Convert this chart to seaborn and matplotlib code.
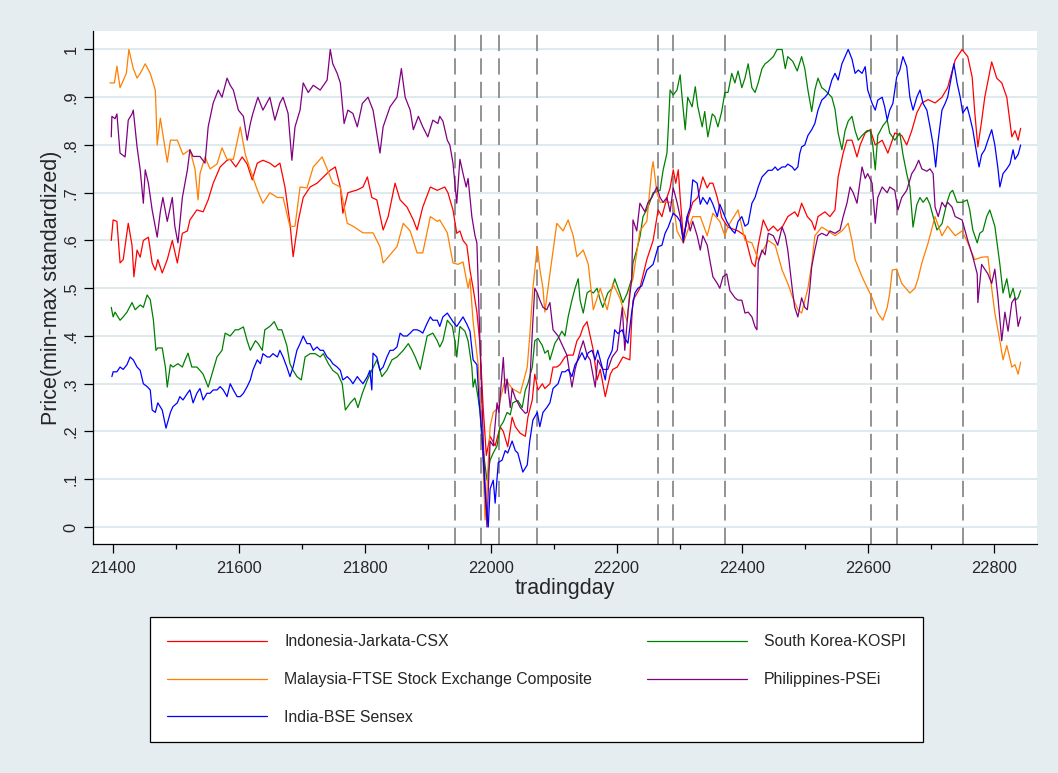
import matplotlib.pyplot as plt
import pandas as pd
import seaborn as sns
from matplotlib.lines import Line2D
from matplotlib.ticker import FixedLocator

# (tradingday, min-max standardized price)
indonesia = [
    (21397, .60), (21400, .643), (21406, .64), (21411, .553), (21416, .56), (21424, .636), (21430, .59),
    (21433, .524), (21438, .58), (21443, .565), (21448, .60), (21456, .607), (21462, .553), (21467, .538),
    (21471, .56), (21478, .532), (21486, .56), (21494, .60), (21502, .553), (21510, .615), (21518, .62),
    (21522, .643), (21533, .664), (21543, .66), (21551, .685), (21559, .72), (21570, .754), (21581, .768),
    (21586, .77), (21595, .754), (21605, .775), (21613, .76), (21621, .727), (21629, .762), (21638, .768),
    (21649, .762), (21657, .754), (21665, .762), (21673, .712), (21681, .636), (21686, .566), (21694, .64),
    (21702, .69), (21713, .712), (21724, .72), (21734, .733), (21745, .747), (21753, .754), (21761, .712),
    (21765, .657), (21773, .70), (21788, .706), (21797, .712), (21804, .733), (21811, .69), (21819, .685),
    (21829, .622), (21837, .65), (21848, .72), (21856, .685), (21867, .67), (21877, .643), (21883, .622),
    (21892, .67), (21904, .712), (21915, .705), (21927, .712), (21932, .70), (21940, .664), (21946, .615),
    (21951, .62), (21956, .60), (21962, .59), (21967, .538), (21972, .50), (21978, .45), (21983, .38),
    (21988, .25), (21993, .15), (21999, .19), (22007, .17), (22015, .21), (22020, .20), (22027, .168),
    (22034, .23), (22039, .21), (22047, .196), (22055, .19), (22059, .23), (22066, .266), (22070, .32),
    (22075, .287), (22082, .30), (22086, .29), (22094, .30), (22099, .335), (22105, .335), (22110, .34),
    (22118, .356), (22123, .36), (22131, .36), (22137, .39), (22142, .40), (22147, .419), (22153, .43),
    (22158, .40), (22163, .37), (22169, .308), (22174, .33), (22182, .273), (22190, .32), (22194, .33),
    (22201, .335), (22210, .356), (22221, .35), (22224, .433), (22226, .475), (22237, .50), (22248, .56),
    (22258, .60), (22266, .664), (22272, .65), (22280, .69), (22285, .71), (22290, .748), (22294, .72),
    (22298, .748), (22301, .69), (22306, .607), (22313, .645), (22321, .68), (22329, .69), (22337, .733),
    (22344, .71), (22348, .72), (22353, .72), (22360, .69), (22367, .648), (22377, .628), (22393, .62),
    (22404, .61), (22415, .553), (22420, .545), (22425, .59), (22433, .643), (22441, .62), (22449, .63),
    (22456, .62), (22464, .63), (22472, .65), (22483, .66), (22488, .65), (22494, .678), (22503, .65),
    (22510, .64), (22515, .622), (22520, .65), (22531, .66), (22539, .65), (22547, .664), (22552, .733),
    (22560, .783), (22566, .81), (22574, .81), (22582, .775), (22587, .80), (22595, .825), (22603, .832),
    (22611, .80), (22622, .81), (22631, .783), (22642, .825), (22653, .82), (22661, .80), (22669, .83),
    (22677, .867), (22685, .888), (22695, .895), (22706, .888), (22717, .90), (22726, .92), (22738, .978),
    (22749, 1.0), (22758, .985), (22765, .942), (22769, .87), (22774, .796), (22780, .85), (22785, .90),
    (22796, .974), (22804, .94), (22812, .93), (22820, .90), (22828, .817), (22833, .83), (22838, .81),
    (22842, .835),
]

south_korea = [
    (21397, .46), (21400, .44), (21403, .45), (21411, .433), (21416, .44), (21422, .45), (21430, .47),
    (21435, .455), (21443, .465), (21448, .46), (21454, .486), (21459, .476), (21464, .433), (21468, .37),
    (21471, .375), (21478, .375), (21483, .335), (21486, .293), (21491, .34), (21495, .335), (21503, .342),
    (21510, .335), (21514, .349), (21519, .364), (21525, .335), (21533, .335), (21538, .328), (21543, .32),
    (21551, .293), (21557, .32), (21565, .356), (21573, .37), (21578, .406), (21586, .40), (21594, .413),
    (21599, .413), (21607, .419), (21613, .39), (21618, .37), (21626, .39), (21630, .385), (21637, .37),
    (21641, .413), (21649, .42), (21656, .43), (21662, .413), (21668, .413), (21676, .38), (21681, .342),
    (21686, .328), (21692, .315), (21699, .308), (21705, .356), (21713, .363), (21721, .363), (21729, .356),
    (21734, .363), (21742, .342), (21749, .328), (21757, .32), (21764, .30), (21769, .245), (21777, .26),
    (21784, .27), (21789, .25), (21796, .28), (21804, .308), (21811, .328), (21819, .35), (21827, .315),
    (21835, .328), (21843, .35), (21851, .356), (21861, .37), (21869, .384), (21875, .37), (21880, .356),
    (21888, .33), (21892, .356), (21899, .40), (21908, .406), (21915, .39), (21919, .377), (21924, .39),
    (21931, .433), (21939, .42), (21943, .39), (21946, .356), (21951, .42), (21959, .41), (21964, .39),
    (21970, .335), (21972, .293), (21975, .31), (21980, .27), (21983, .24), (21986, .18), (21988, .16),
    (21994, .098), (21999, .14), (22004, .155), (22010, .17), (22015, .21), (22020, .22), (22026, .24),
    (22031, .235), (22035, .26), (22043, .265), (22050, .25), (22055, .287), (22059, .30), (22066, .335),
    (22070, .39), (22075, .395), (22082, .38), (22086, .364), (22091, .37), (22094, .35), (22102, .385),
    (22107, .395), (22113, .41), (22118, .40), (22123, .44), (22129, .475), (22134, .50), (22139, .52),
    (22142, .475), (22147, .448), (22153, .49), (22158, .495), (22163, .49), (22169, .50), (22174, .475),
    (22178, .46), (22186, .49), (22193, .50), (22197, .52), (22205, .49), (22210, .47), (22217, .49),
    (22224, .52), (22226, .553), (22232, .58), (22237, .607), (22242, .65), (22250, .67), (22258, .70),
    (22269, .705), (22274, .748), (22280, .783), (22282, .832), (22285, .915), (22290, .905), (22296, .915),
    (22301, .947), (22304, .90), (22309, .832), (22313, .90), (22320, .88), (22325, .922), (22329, .88),
    (22336, .838), (22340, .87), (22345, .817), (22352, .865), (22356, .86), (22361, .838), (22367, .87),
    (22372, .91), (22377, .91), (22383, .95), (22388, .93), (22393, .955), (22399, .92), (22404, .94),
    (22409, .97), (22415, .92), (22420, .91), (22425, .93), (22431, .96), (22436, .97), (22441, .975),
    (22449, .985), (22455, 1.0), (22463, 1.0), (22468, .96), (22472, .985), (22480, .975), (22487, .955),
    (22494, .985), (22499, .96), (22504, .915), (22510, .87), (22515, .915), (22520, .94), (22526, .92),
    (22531, .915), (22536, .908), (22542, .90), (22547, .875), (22552, .825), (22558, .79), (22563, .83),
    (22568, .85), (22574, .86), (22579, .83), (22584, .81), (22590, .82), (22598, .83), (22603, .83),
    (22607, .80), (22611, .748), (22615, .82), (22623, .84), (22630, .852), (22634, .825), (22642, .81),
    (22650, .825), (22655, .78), (22661, .74), (22666, .712), (22671, .628), (22677, .675), (22682, .69),
    (22687, .68), (22693, .69), (22698, .675), (22703, .65), (22709, .622), (22717, .635), (22725, .68),
    (22730, .70), (22734, .705), (22741, .68), (22749, .68), (22757, .685), (22761, .665), (22766, .622),
    (22773, .595), (22777, .615), (22782, .62), (22788, .65), (22793, .664), (22801, .63), (22804, .60),
    (22809, .55), (22814, .49), (22820, .52), (22825, .48), (22830, .50), (22834, .475), (22838, .48),
    (22842, .495),
]

malaysia = [
    (21395, .93), (21402, .93), (21406, .965), (21411, .92), (21421, .95), (21425, 1.0), (21432, .96),
    (21438, .94), (21443, .95), (21451, .97), (21459, .95), (21467, .915), (21468, .88), (21470, .80),
    (21475, .856), (21486, .764), (21491, .81), (21502, .81), (21511, .78), (21522, .79), (21530, .75),
    (21535, .685), (21538, .74), (21546, .775), (21554, .75), (21565, .76), (21573, .794), (21581, .77),
    (21591, .77), (21602, .838), (21610, .78), (21618, .748), (21629, .706), (21638, .678), (21649, .70),
    (21661, .69), (21670, .69), (21681, .629), (21689, .63), (21697, .712), (21708, .71), (21718, .754),
    (21732, .775), (21740, .75), (21749, .72), (21761, .712), (21772, .636), (21781, .63), (21797, .616),
    (21813, .616), (21824, .587), (21829, .553), (21840, .57), (21851, .587), (21861, .636), (21872, .62),
    (21883, .574), (21892, .574), (21904, .65), (21915, .64), (21919, .643), (21931, .616), (21940, .553),
    (21948, .55), (21956, .555), (21964, .50), (21967, .52), (21972, .43), (21980, .34), (21986, .20),
    (21991, .015), (21994, .08), (21999, .21), (22004, .24), (22012, .25), (22023, .31), (22034, .29),
    (22047, .28), (22058, .335), (22062, .40), (22067, .50), (22074, .587), (22078, .54), (22083, .50),
    (22086, .45), (22094, .53), (22105, .636), (22115, .62), (22123, .643), (22131, .61), (22137, .566),
    (22147, .58), (22155, .55), (22163, .455), (22174, .50), (22185, .455), (22194, .51), (22205, .48),
    (22217, .43), (22221, .50), (22226, .52), (22237, .62), (22248, .64), (22256, .75), (22258, .765),
    (22264, .70), (22269, .68), (22280, .68), (22290, .68), (22296, .62), (22306, .595), (22321, .65),
    (22333, .65), (22344, .61), (22353, .657), (22364, .64), (22372, .61), (22377, .63), (22393, .664),
    (22404, .60), (22415, .595), (22425, .56), (22441, .60), (22452, .59), (22463, .538), (22472, .51),
    (22480, .48), (22488, .455), (22494, .448), (22504, .50), (22510, .55), (22515, .61), (22526, .628),
    (22536, .62), (22547, .61), (22558, .62), (22568, .636), (22574, .60), (22579, .56), (22590, .524),
    (22606, .48), (22615, .448), (22623, .433), (22630, .46), (22634, .49), (22638, .538), (22645, .54),
    (22653, .51), (22666, .49), (22674, .50), (22679, .52), (22685, .553), (22695, .595), (22706, .65),
    (22717, .61), (22726, .63), (22738, .61), (22749, .62), (22758, .595), (22769, .56), (22780, .565),
    (22790, .566), (22796, .50), (22801, .448), (22809, .39), (22814, .35), (22820, .38), (22828, .335),
    (22833, .34), (22838, .32), (22842, .345),
]

philippines = [
    (21397, .817), (21398, .86), (21403, .855), (21406, .865), (21411, .783), (21414, .78), (21419, .775),
    (21424, .852), (21430, .865), (21432, .873), (21438, .796), (21443, .748), (21448, .678), (21451, .748),
    (21456, .72), (21462, .664), (21470, .607), (21475, .66), (21479, .69), (21486, .64), (21494, .69),
    (21498, .63), (21503, .595), (21510, .69), (21518, .748), (21522, .79), (21527, .776), (21538, .776),
    (21546, .762), (21551, .838), (21559, .888), (21567, .915), (21573, .90), (21581, .94), (21586, .925),
    (21591, .915), (21599, .873), (21607, .86), (21613, .81), (21618, .845), (21622, .866), (21630, .90),
    (21638, .873), (21649, .90), (21657, .852), (21665, .888), (21670, .90), (21678, .866), (21684, .768),
    (21689, .838), (21697, .873), (21702, .93), (21710, .91), (21718, .925), (21729, .915), (21740, .936),
    (21745, 1.0), (21749, .97), (21756, .95), (21761, .93), (21767, .845), (21773, .873), (21781, .866),
    (21788, .838), (21796, .887), (21805, .90), (21813, .873), (21824, .783), (21829, .838), (21840, .88),
    (21851, .90), (21858, .96), (21864, .90), (21872, .873), (21877, .832), (21885, .86), (21892, .838),
    (21900, .817), (21908, .852), (21916, .845), (21919, .86), (21924, .85), (21931, .81), (21935, .80),
    (21940, .762), (21946, .678), (21951, .77), (21956, .74), (21961, .712), (21964, .73), (21970, .65),
    (21975, .61), (21978, .595), (21980, .51), (21983, .38), (21989, .15), (21994, .0), (21999, .18),
    (22004, .17), (22010, .26), (22013, .24), (22020, .355), (22023, .28), (22026, .31), (22031, .25),
    (22034, .29), (22039, .27), (22047, .25), (22055, .238), (22058, .24), (22062, .30), (22067, .433),
    (22070, .50), (22074, .49), (22078, .475), (22083, .46), (22089, .455), (22094, .47), (22099, .413),
    (22107, .40), (22115, .377), (22121, .36), (22129, .293), (22134, .33), (22142, .37), (22147, .39),
    (22153, .36), (22158, .35), (22166, .293), (22170, .35), (22178, .33), (22186, .33), (22193, .356),
    (22201, .37), (22209, .46), (22213, .37), (22218, .45), (22224, .52), (22226, .643), (22232, .62),
    (22237, .678), (22245, .66), (22250, .68), (22256, .69), (22264, .712), (22269, .69), (22274, .68),
    (22280, .69), (22285, .66), (22290, .71), (22296, .68), (22301, .65), (22306, .595), (22312, .65),
    (22317, .62), (22321, .64), (22328, .61), (22333, .58), (22337, .61), (22344, .59), (22348, .56),
    (22353, .524), (22360, .51), (22364, .50), (22369, .524), (22375, .53), (22380, .495), (22388, .48),
    (22393, .475), (22399, .475), (22404, .448), (22409, .45), (22415, .44), (22420, .419), (22423, .413),
    (22425, .553), (22431, .58), (22436, .57), (22441, .615), (22449, .61), (22456, .59), (22463, .628),
    (22468, .61), (22472, .58), (22479, .50), (22483, .46), (22488, .44), (22494, .48), (22499, .46),
    (22503, .455), (22507, .50), (22510, .545), (22515, .58), (22520, .61), (22526, .615), (22534, .61),
    (22539, .62), (22547, .615), (22555, .622), (22560, .65), (22566, .678), (22571, .712), (22576, .70),
    (22582, .678), (22590, .754), (22595, .73), (22599, .74), (22606, .72), (22611, .636), (22615, .69),
    (22622, .712), (22630, .70), (22634, .712), (22642, .705), (22647, .664), (22653, .69), (22661, .705),
    (22669, .74), (22674, .75), (22680, .768), (22685, .75), (22693, .745), (22698, .75), (22703, .74),
    (22706, .67), (22711, .65), (22717, .68), (22722, .67), (22726, .68), (22733, .67), (22738, .65),
    (22749, .643), (22758, .60), (22766, .566), (22773, .53), (22774, .47), (22780, .55), (22785, .54),
    (22790, .53), (22796, .51), (22801, .54), (22806, .48), (22812, .39), (22817, .45), (22822, .41),
    (22828, .47), (22833, .48), (22838, .42), (22842, .44),
]

india = [
    (21398, .315), (21400, .325), (21406, .325), (21411, .335), (21416, .33), (21422, .34), (21427, .356),
    (21432, .35), (21438, .335), (21443, .328), (21448, .30), (21454, .294), (21459, .287), (21462, .245),
    (21467, .24), (21471, .26), (21478, .245), (21484, .207), (21491, .24), (21495, .252), (21502, .26),
    (21506, .273), (21511, .266), (21518, .28), (21522, .287), (21527, .26), (21533, .28), (21538, .29),
    (21543, .266), (21549, .28), (21554, .28), (21559, .287), (21565, .287), (21570, .294), (21575, .287),
    (21581, .273), (21586, .30), (21591, .287), (21597, .273), (21602, .273), (21607, .28), (21613, .294),
    (21618, .308), (21622, .328), (21629, .35), (21634, .342), (21638, .363), (21645, .356), (21649, .356),
    (21654, .363), (21661, .356), (21665, .37), (21670, .356), (21676, .335), (21681, .315), (21686, .335),
    (21692, .37), (21697, .384), (21702, .40), (21708, .384), (21713, .384), (21718, .37), (21724, .377),
    (21729, .37), (21734, .37), (21740, .356), (21745, .35), (21749, .342), (21756, .335), (21761, .328),
    (21765, .308), (21772, .315), (21777, .308), (21781, .30), (21788, .315), (21792, .308), (21797, .30),
    (21804, .315), (21808, .328), (21811, .287), (21813, .364), (21819, .356), (21824, .328), (21829, .335),
    (21835, .356), (21840, .37), (21845, .37), (21851, .377), (21856, .406), (21861, .40), (21867, .40),
    (21872, .406), (21877, .413), (21883, .413), (21888, .41), (21892, .406), (21899, .427), (21904, .44),
    (21908, .433), (21915, .433), (21919, .42), (21924, .44), (21931, .448), (21935, .44), (21940, .43),
    (21946, .42), (21951, .43), (21956, .44), (21962, .425), (21967, .41), (21972, .35), (21978, .34),
    (21981, .273), (21986, .196), (21991, .07), (21996, .0), (21999, .08), (22004, .098), (22007, .05),
    (22012, .135), (22018, .14), (22023, .16), (22027, .155), (22034, .18), (22039, .16), (22043, .155),
    (22051, .115), (22058, .13), (22062, .18), (22067, .224), (22074, .24), (22078, .21), (22083, .24),
    (22089, .25), (22094, .26), (22099, .29), (22107, .30), (22113, .325), (22118, .325), (22123, .33),
    (22129, .315), (22134, .34), (22139, .35), (22145, .365), (22150, .35), (22155, .365), (22161, .37),
    (22166, .35), (22170, .37), (22177, .335), (22182, .308), (22186, .35), (22193, .37), (22197, .413),
    (22202, .405), (22209, .413), (22213, .395), (22218, .385), (22224, .45), (22229, .49), (22234, .50),
    (22240, .505), (22248, .538), (22258, .55), (22266, .587), (22272, .59), (22277, .615), (22282, .628),
    (22290, .657), (22296, .65), (22301, .64), (22306, .60), (22312, .65), (22317, .67), (22321, .727),
    (22328, .72), (22333, .676), (22337, .69), (22344, .676), (22348, .69), (22353, .676), (22360, .65),
    (22364, .676), (22369, .66), (22375, .64), (22383, .622), (22388, .615), (22393, .64), (22399, .65),
    (22404, .63), (22409, .635), (22415, .678), (22420, .69), (22425, .712), (22431, .733), (22436, .74),
    (22441, .747), (22447, .747), (22452, .754), (22456, .747), (22463, .754), (22468, .754), (22472, .76),
    (22479, .754), (22483, .747), (22488, .754), (22491, .782), (22494, .796), (22499, .80), (22504, .82),
    (22510, .832), (22515, .845), (22520, .873), (22526, .894), (22531, .90), (22536, .908), (22542, .936),
    (22547, .95), (22552, .936), (22558, .97), (22563, .985), (22568, 1.0), (22574, .98), (22579, .95),
    (22584, .957), (22590, .95), (22595, .964), (22599, .915), (22606, .887), (22611, .873), (22615, .894),
    (22622, .90), (22626, .88), (22630, .852), (22634, .873), (22639, .887), (22645, .942), (22650, .957),
    (22655, .985), (22661, .964), (22666, .90), (22671, .873), (22677, .90), (22682, .915), (22687, .887),
    (22693, .873), (22698, .838), (22703, .80), (22707, .754), (22711, .81), (22717, .873), (22722, .887),
    (22726, .90), (22733, .95), (22736, .97), (22741, .93), (22746, .90), (22750, .867), (22757, .88),
    (22761, .86), (22766, .832), (22773, .775), (22776, .754), (22780, .78), (22785, .79), (22790, .81),
    (22796, .832), (22801, .80), (22806, .75), (22809, .712), (22814, .74), (22820, .75), (22825, .76),
    (22830, .79), (22833, .77), (22838, .78), (22842, .80),
]

# drawing order (India ends up on top), legend order is separate
series_names = ['Indonesia-Jarkata-CSX', 'South Korea-KOSPI',
                'Malaysia-FTSE Stock Exchange Composite', 'Philippines-PSEi', 'India-BSE Sensex']
series_colors = ['#ff0000', '#008000', '#ff7f00', '#800080', '#0000ff']
legend_order = [0, 2, 4, 1, 3]

event_days = [21943, 21984, 22013, 22074, 22265, 22289, 22373, 22605, 22645, 22750]
x_ticks = [21400, 21600, 21800, 22000, 22200, 22400, 22600, 22800]
x_minor_ticks = [21500, 21700, 21900, 22100, 22300, 22500, 22700]
y_ticks = [0, .1, .2, .3, .4, .5, .6, .7, .8, .9, 1]
y_tick_labels = ['0', '.1', '.2', '.3', '.4', '.5', '.6', '.7', '.8', '.9', '1']

frames = []
for name, pts in zip(series_names, [indonesia, south_korea, malaysia, philippines, india]):
    df = pd.DataFrame(pts, columns=['tradingday', 'price'])
    df['index'] = name
    frames.append(df)
data = pd.concat(frames, ignore_index=True)

sns.set_style('white')
plt.rcParams['font.family'] = ['Liberation Sans', 'DejaVu Sans']

bg = '#e6edf1'
fig = plt.figure(figsize=(10.58, 7.73), dpi=100, facecolor=bg)
ax = fig.add_axes([93 / 1058, 1 - 544 / 773, 944 / 1058, 513 / 773])
ax.set_facecolor('white')

for d in event_days:
    ax.axvline(d, color='#8a8a8a', lw=1.3, ls=(0, (9, 4)), zorder=1)

sns.lineplot(data=data, x='tradingday', y='price', hue='index', hue_order=series_names,
             palette=series_colors, estimator=None, sort=False, lw=0.9, legend=False,
             ax=ax, zorder=3)

ax.set_xlim(21368, 22868)
ax.set_ylim(-0.0356, 1.0387)
ax.set_xticks(x_ticks)
ax.set_xticklabels([str(t) for t in x_ticks])
ax.xaxis.set_minor_locator(FixedLocator(x_minor_ticks))
ax.set_yticks(y_ticks)
ax.set_yticklabels(y_tick_labels)
ax.yaxis.grid(True, color='#e0e9ee', lw=1.5)
ax.xaxis.grid(False)
ax.set_axisbelow(True)

for s in ['top', 'right']:
    ax.spines[s].set_visible(False)
for s in ['left', 'bottom']:
    ax.spines[s].set_color('black')
    ax.spines[s].set_linewidth(0.9)

ax.tick_params(which='major', direction='out', length=6.5, width=0.9, color='black',
               labelsize=11.8, bottom=True, left=True)
ax.tick_params(which='minor', direction='out', length=3.6, width=0.9, color='black', bottom=True)
ax.tick_params(axis='x', pad=5.5)
ax.tick_params(axis='y', labelrotation=90, pad=4)
for lbl in ax.get_yticklabels():
    lbl.set_va('center')

ax.set_xlabel('tradingday', fontsize=15.5, labelpad=2)
ax.set_ylabel('Price(min-max standardized)', fontsize=15.5, labelpad=1)

handles = [Line2D([], [], color=c, lw=0.9) for c in series_colors]
leg = fig.legend([handles[i] for i in legend_order], [series_names[i] for i in legend_order],
                 ncol=2, loc='upper left', bbox_to_anchor=(150 / 1058, 1 - 617 / 773),
                 borderaxespad=0, frameon=True, fancybox=False, edgecolor='black',
                 facecolor='white', framealpha=1, fontsize=11.4, handlelength=6.3,
                 handletextpad=1.07, columnspacing=3.5, labelspacing=1.43, borderpad=1.1)
leg.get_frame().set_linewidth(0.9)

plt.savefig('out.png', dpi=100, facecolor=bg)
